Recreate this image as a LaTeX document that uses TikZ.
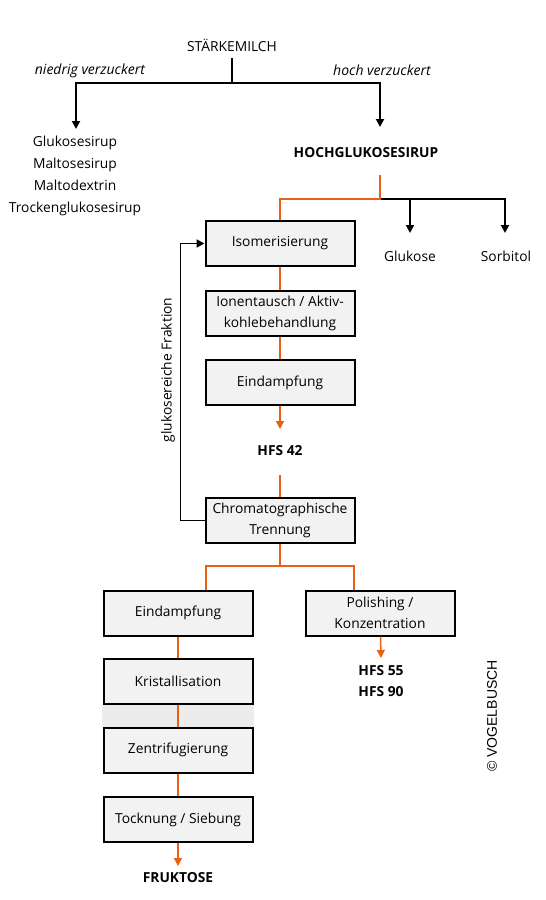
\documentclass[tikz,border=0pt]{standalone}
\usepackage{fontspec}
\setmainfont{Open Sans}
\newfontfamily\arialfont{Liberation Sans}
\usetikzlibrary{arrows.meta}
\definecolor{org}{RGB}{235,95,20}
\definecolor{boxfill}{RGB}{242,242,242}
\definecolor{bandfill}{RGB}{236,236,236}
\tikzset{
 proc/.style={draw=black, line width=2pt, fill=boxfill, minimum width=149pt, minimum height=45pt, align=center, font=\fontsize{13.8}{21}\selectfont, inner sep=0pt},
 lbl/.style={font=\fontsize{13.8}{16}\selectfont, inner sep=0pt, align=center},
 ilbl/.style={font=\itshape\fontsize{14}{16}\selectfont, inner sep=0pt, align=center},
 blbl/.style={font=\bfseries\fontsize{13.8}{21}\selectfont, inner sep=0pt, align=center},
 bl/.style={line width=1.9pt, black},
 ol/.style={line width=1.5pt, org},
 arr/.style={-{Triangle[width=8pt,length=8pt]}},
}
\begin{document}
\begin{tikzpicture}[x=1pt,y=-1pt]
\useasboundingbox (0,0) rectangle (546,900);
% band
\fill[bandfill] (102,705) rectangle (254,727);
% top
\node[lbl] (start) at (232,45) {STÄRKEMILCH};
\node[ilbl] (niedrig) at (90,71) {niedrig verzuckert};
\node[ilbl] (hoch) at (382,70) {hoch verzuckert};
\coordinate (j1) at (232,83);
\coordinate (s1) at (232,58);
\node[lbl, font=\fontsize{13.8}{22}\selectfont] (list) at (75,176) {Glukosesirup\\Maltosesirup\\Maltodextrin\\Trockenglukosesirup};
\node[blbl] (hg) at (366,153) {HOCHGLUKOSESIRUP};
\coordinate (listin) at (76,129);
\coordinate (hgin) at (380,127);
\coordinate (hgout) at (380,175);
\coordinate (j2) at (380,199);
\draw[bl] (s1) -- (j1);
\draw[bl,arr] (j1) -| (listin);
\draw[bl,arr] (j1) -| (hgin);
% products
\node[lbl] (glu) at (410,256) {Glukose};
\node[lbl] (sorb) at (506,256) {Sorbitol};
\coordinate (gluin) at (410,233);
\coordinate (sorbin) at (505,233);
\draw[bl,arr] (j2) -| (gluin);
\draw[bl,arr] (j2) -| (sorbin);
% boxes column 1
\node[proc] (iso) at (280,243.5) {Isomerisierung};
\node[proc] (ion) at (280,313.5) {Ionentausch / Aktiv-\\kohlebehandlung};
\node[proc] (eind1) at (280,382.5) {Eindampfung};
\node[blbl] (hfs42) at (280,451) {HFS 42};
\coordinate (a42) at (280,429);
\coordinate (b42) at (280,475);
\node[proc] (chrom) at (280,520.5) {Chromatographische\\Trennung};
\draw[ol] (hgout) -- (j2) -| (iso.north);
\draw[ol] (iso) -- (ion);
\draw[ol] (ion) -- (eind1);
\draw[ol,arr] (eind1) -- (a42);
\draw[ol] (b42) -- (chrom);
% feedback
\draw[bl,arr] (chrom.west) -- ++(-24,0) coordinate (fb) |- (iso.west);
\node[lbl, rotate=90] (gf) at (168,370) {glukosereiche Fraktion};
% split
\coordinate (j3) at (280,566);
\node[proc] (eind2) at (178,613) {Eindampfung};
\node[proc] (pol) at (380,613) {Polishing /\\Konzentration};
\draw[ol] (chrom) -- (j3);
\draw[ol] (j3) -| ([xshift=28pt]eind2.north);
\draw[ol] (j3) -| ([xshift=-26pt]pol.north);
\node[blbl] (hfs55) at (381,681) {HFS 55\\HFS 90};
\coordinate (a55) at (381,658);
\draw[ol,arr] (pol) -- (a55);
% fructose column
\node[proc] (krist) at (178,681.5) {Kristallisation};
\node[proc] (zent) at (178,750) {Zentrifugierung};
\node[proc] (tock) at (178,819.5) {Tocknung / Siebung};
\node[blbl] (fru) at (178,878) {FRUKTOSE};
\coordinate (afru) at (178,866);
\draw[ol] (eind2) -- (krist);
\draw[ol] (krist) -- (zent);
\draw[ol] (zent) -- (tock);
\draw[ol,arr] (tock) -- (afru);
% copyright
\node[font=\arialfont\fontsize{14}{16}\selectfont, rotate=90, inner sep=0pt] (copy) at (492,716) {© VOGELBUSCH};
\end{tikzpicture}
\end{document}
